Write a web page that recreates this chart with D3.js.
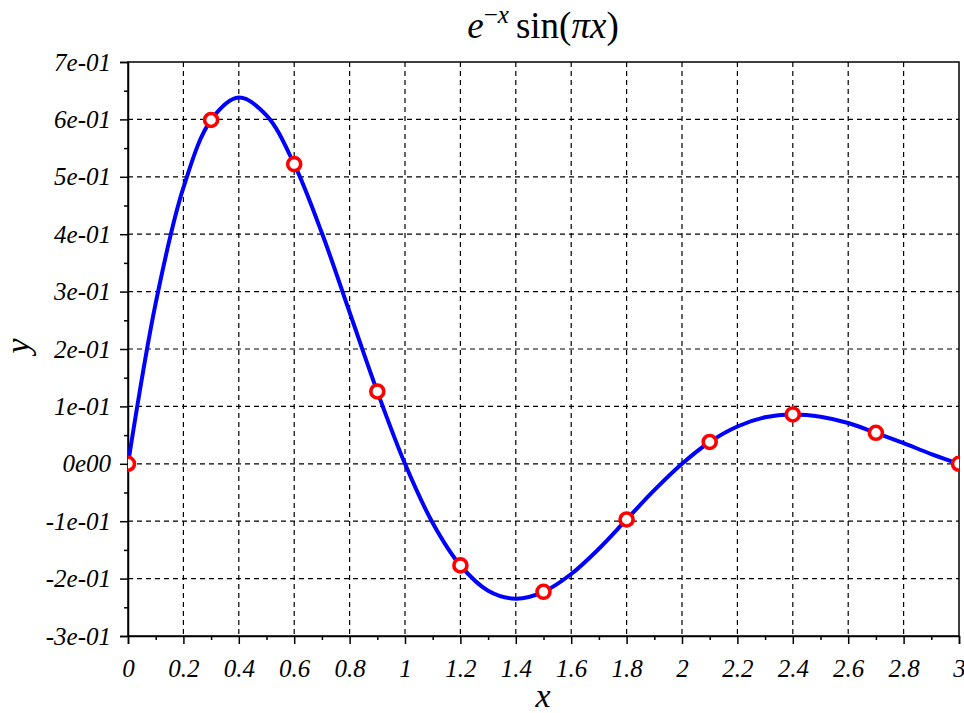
<!DOCTYPE html>
<html>
<head>
<meta charset="utf-8">
<script src="https://cdn.jsdelivr.net/npm/d3@7"></script>
<style>
  body { margin: 0; background: #fff; }
  svg { display: block; }
</style>
</head>
<body>
<div id="canvas"></div>
<script>
"use strict"

// values
let curveX = [0, 0.1, 0.2, 0.3, 0.4, 0.5, 0.6, 0.7, 0.8, 0.9, 1.0,
    1.1, 1.2, 1.3, 1.4, 1.5, 1.6, 1.7, 1.8, 1.9, 2.0,
    2.1, 2.2, 2.3, 2.4, 2.5, 2.6, 2.7, 2.8, 2.9, 3.0];
let curveY = [0, 0.280, 0.481, 0.599, 0.638, 0.607, 0.522, 0.402, 0.264, 0.126, 0,
    -0.103, -0.177, -0.221, -0.235, -0.223, -0.192, -0.148, -0.097, -0.046, 0,
    0.038, 0.065, 0.081, 0.086, 0.082, 0.071, 0.054, 0.036, 0.017, 0];
let markerX = [0, 0.3, 0.6, 0.9, 1.2, 1.5, 1.8, 2.1, 2.4, 2.7, 3.0];
let markerY = [0, 0.599, 0.522, 0.126, -0.177, -0.223, -0.097, 0.038, 0.086, 0.054, 0];
let xTicks = [0, 0.2, 0.4, 0.6, 0.8, 1, 1.2, 1.4, 1.6, 1.8, 2, 2.2, 2.4, 2.6, 2.8, 3];
let xMinor = [0.1, 0.3, 0.5, 0.7, 0.9, 1.1, 1.3, 1.5, 1.7, 1.9, 2.1, 2.3, 2.5, 2.7, 2.9];
let yTicks = [-0.3, -0.2, -0.1, 0, 0.1, 0.2, 0.3, 0.4, 0.5, 0.6, 0.7];
let yTickLabels = ["-3e-01", "-2e-01", "-1e-01", "0e00", "1e-01", "2e-01", "3e-01", "4e-01", "5e-01", "6e-01", "7e-01"];
let yMinor = [-0.25, -0.15, -0.05, 0.05, 0.15, 0.25, 0.35, 0.45, 0.55, 0.65];

let width = 964, height = 713;
let plotLeft = 128, plotRight = 959, plotTop = 62, plotBottom = 636;
let serif = "'Liberation Serif', 'Times New Roman', serif";

let drawing = d3.select("#canvas")
    .append("svg")
    .attr("width", width)
    .attr("height", height);

let x = d3.scaleLinear().domain([0, 3]).range([plotLeft, plotRight]);
let y = d3.scaleLinear().domain([-0.3, 0.7]).range([plotBottom, plotTop]);

drawing.append("defs").append("clipPath")
    .attr("id", "plotclip")
    .append("rect")
    .attr("x", plotLeft).attr("y", plotTop)
    .attr("width", plotRight - plotLeft).attr("height", plotBottom - plotTop);

// dashed grid
drawing.append("g")
    .selectAll("line")
    .data(xTicks.slice(1, -1))
    .join("line")
    .attr("x1", d => x(d)).attr("x2", d => x(d))
    .attr("y1", plotTop).attr("y2", plotBottom)
    .attr("stroke", "#000").attr("stroke-width", 1.2)
    .attr("stroke-dasharray", "5,4");
drawing.append("g")
    .selectAll("line")
    .data(yTicks.slice(1, -1))
    .join("line")
    .attr("x1", plotLeft).attr("x2", plotRight)
    .attr("y1", d => y(d)).attr("y2", d => y(d))
    .attr("stroke", "#000").attr("stroke-width", 1.2)
    .attr("stroke-dasharray", "5,4");

// minor ticks
drawing.append("g")
    .attr("transform", `translate(0,${plotBottom})`)
    .call(d3.axisBottom(x).tickValues(xMinor).tickSize(4).tickFormat(""))
    .call(g => g.select(".domain").remove());
drawing.append("g")
    .attr("transform", `translate(${plotLeft},0)`)
    .call(d3.axisLeft(y).tickValues(yMinor).tickSize(4).tickFormat(""))
    .call(g => g.select(".domain").remove());

// major axes
let xAxis = drawing.append("g")
    .attr("transform", `translate(0,${plotBottom})`)
    .call(d3.axisBottom(x).tickValues(xTicks).tickSize(8).tickPadding(9)
        .tickFormat(d3.format("~g")));
let yAxis = drawing.append("g")
    .attr("transform", `translate(${plotLeft},0)`)
    .call(d3.axisLeft(y).tickValues(yTicks).tickSize(8).tickPadding(9)
        .tickFormat((d, i) => yTickLabels[i]));

drawing.selectAll(".tick line").attr("stroke", "#000").attr("stroke-width", 1.5);
drawing.selectAll(".domain").attr("stroke", "#000").attr("stroke-width", 1.5);
xAxis.selectAll("text").attr("dy", "0.95em");
drawing.selectAll(".tick text")
    .attr("font-family", serif)
    .attr("font-style", "italic")
    .attr("font-size", 25)
    .attr("fill", "#000");

// box
drawing.append("rect")
    .attr("x", plotLeft).attr("y", plotTop)
    .attr("width", plotRight - plotLeft).attr("height", plotBottom - plotTop)
    .attr("fill", "none")
    .attr("stroke", "#000").attr("stroke-width", 1.5);

// curve and markers
let plot = drawing.append("g").attr("clip-path", "url(#plotclip)");
let line = d3.line()
    .x((d, i) => x(curveX[i]))
    .y(d => y(d))
    .curve(d3.curveCatmullRom.alpha(0.5));
plot.append("path")
    .datum(curveY)
    .attr("d", line)
    .attr("fill", "none")
    .attr("stroke", "#0000ff")
    .attr("stroke-width", 4);
plot.selectAll("circle")
    .data(markerY)
    .join("circle")
    .attr("cx", (d, i) => x(markerX[i]))
    .attr("cy", d => y(d))
    .attr("r", 6.5)
    .attr("fill", "#fff")
    .attr("stroke", "#ff0000")
    .attr("stroke-width", 3.6);

// title
let title = drawing.append("text")
    .attr("x", 543).attr("y", 38)
    .attr("text-anchor", "middle")
    .attr("font-family", serif)
    .attr("font-size", 37)
    .attr("fill", "#000");
title.append("tspan").attr("font-style", "italic").text("e");
title.append("tspan").attr("font-size", 25).attr("dy", -15).text("\u2212");
title.append("tspan").attr("font-size", 25).attr("font-style", "italic").text("x");
title.append("tspan").attr("dy", 15).attr("dx", 7).text("sin(");
title.append("tspan").attr("font-style", "italic").text("\u03c0x");
title.append("tspan").text(")");

// axis labels
drawing.append("text")
    .attr("x", 543).attr("y", 707)
    .attr("text-anchor", "middle")
    .attr("font-family", serif)
    .attr("font-style", "italic")
    .attr("font-size", 34)
    .text("x");
drawing.append("text")
    .attr("transform", "translate(29,346) rotate(-90)")
    .attr("text-anchor", "middle")
    .attr("font-family", serif)
    .attr("font-style", "italic")
    .attr("font-size", 34)
    .text("y");
</script>
</body>
</html>
